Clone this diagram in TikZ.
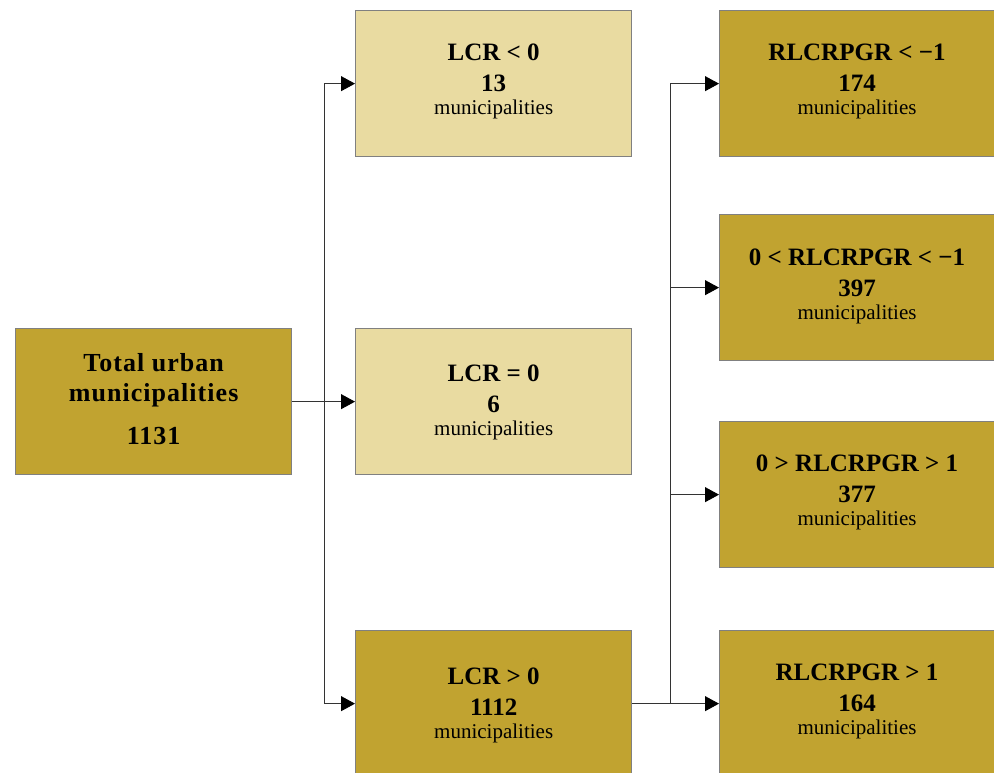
\documentclass[tikz,border=0pt]{standalone}
\usepackage{fontspec}
\setmainfont{Liberation Serif}
\usetikzlibrary{arrows.meta}
\definecolor{gold}{HTML}{C1A330}
\definecolor{lightgold}{HTML}{E9DBA1}
\definecolor{boxgray}{HTML}{808080}
\begin{document}
\begin{tikzpicture}[x=1pt,y=-1pt,
  dark/.style={draw=boxgray, fill=gold, line width=1.3pt, minimum width=276pt, minimum height=146pt, inner sep=0pt, anchor=north west},
  light/.style={dark, fill=lightgold},
  ttl/.style={font=\fontsize{25}{30}\selectfont\bfseries, anchor=base, inner sep=0pt},
  big/.style={font=\fontsize{26}{30}\selectfont\bfseries\addfontfeatures{LetterSpace=4}, anchor=base, inner sep=0pt},
  sub/.style={font=\fontsize{21}{24}\selectfont, anchor=base, inner sep=0pt},
  conn/.style={draw=black!80, line width=0.9pt},
  arr/.style={conn, -{Triangle[length=14pt,width=15pt,color=black]}}]
\useasboundingbox (0,0) rectangle (994,773);
\clip (0,0) rectangle (994,773);
% boxes
\node[dark]  (L)  at (15,328) {};
\node[light] (m1) at (355,10) {};
\node[light] (m2) at (355,328) {};
\node[dark]  (m3) at (355,630) {};
\node[dark]  (r1) at (719,10) {};
\node[dark]  (r2) at (719,214) {};
\node[dark]  (r3) at (719,421) {};
\node[dark]  (r4) at (719,630) {};
% left box text
\node[big] (La) at ([yshift=-43pt]L.north) {Total urban};
\node[big] (Lb) at ([yshift=-73pt]L.north) {municipalities};
\node[big] (Lc) at ([yshift=-116pt]L.north) {1131};
% middle texts
\node[ttl] (m1a) at ([yshift=-51pt]m1.north) {LCR < 0};
\node[ttl] (m1b) at ([yshift=-82pt]m1.north) {13};
\node[sub] (m1c) at ([yshift=-105pt]m1.north) {municipalities};
\node[ttl] (m2a) at ([yshift=-53pt]m2.north) {LCR = 0};
\node[ttl] (m2b) at ([yshift=-84pt]m2.north) {6};
\node[sub] (m2c) at ([yshift=-107pt]m2.north) {municipalities};
\node[ttl] (m3a) at ([yshift=-54pt]m3.north) {LCR > 0};
\node[ttl] (m3b) at ([yshift=-85pt]m3.north) {1112};
\node[sub] (m3c) at ([yshift=-108pt]m3.north) {municipalities};
% right texts (centred on the visible part x=719..994)
\coordinate (rc1) at (857,10);
\coordinate (rc2) at (857,214);
\coordinate (rc3) at (857,421);
\coordinate (rc4) at (857,630);
\node[ttl] (r1a) at ([yshift=-51pt]rc1) {RLCRPGR < −1};
\node[ttl] (r1b) at ([yshift=-82pt]rc1) {174};
\node[sub] (r1c) at ([yshift=-105pt]rc1) {municipalities};
\node[ttl] (r2a) at ([yshift=-51pt]rc2) {0 < RLCRPGR < −1};
\node[ttl] (r2b) at ([yshift=-82pt]rc2) {397};
\node[sub] (r2c) at ([yshift=-105pt]rc2) {municipalities};
\node[ttl] (r3a) at ([yshift=-50pt]rc3) {0 > RLCRPGR > 1};
\node[ttl] (r3b) at ([yshift=-81pt]rc3) {377};
\node[sub] (r3c) at ([yshift=-104pt]rc3) {municipalities};
\node[ttl] (r4a) at ([yshift=-50pt]rc4) {RLCRPGR > 1};
\node[ttl] (r4b) at ([yshift=-81pt]rc4) {164};
\node[sub] (r4c) at ([yshift=-104pt]rc4) {municipalities};
% connectors: left splitter
\coordinate (s1) at ([xshift=32pt]L.east);
\draw[conn] (L.east) -- (s1);
\draw[conn] (s1 |- m1.west) -- (s1 |- m3.west);
\draw[arr] (s1 |- m1.west) -- (m1.west);
\draw[arr] (s1 |- m2.west) -- (m2.west);
\draw[arr] (s1 |- m3.west) -- (m3.west);
% right splitter
\coordinate (s2) at ([xshift=38pt]m3.east);
\draw[arr] (m3.east) -- (r4.west);
\draw[conn] (s2 |- r1.west) -- (s2);
\draw[arr] (s2 |- r1.west) -- (r1.west);
\draw[arr] (s2 |- r2.west) -- (r2.west);
\draw[arr] (s2 |- r3.west) -- (r3.west);
\end{tikzpicture}
\end{document}
